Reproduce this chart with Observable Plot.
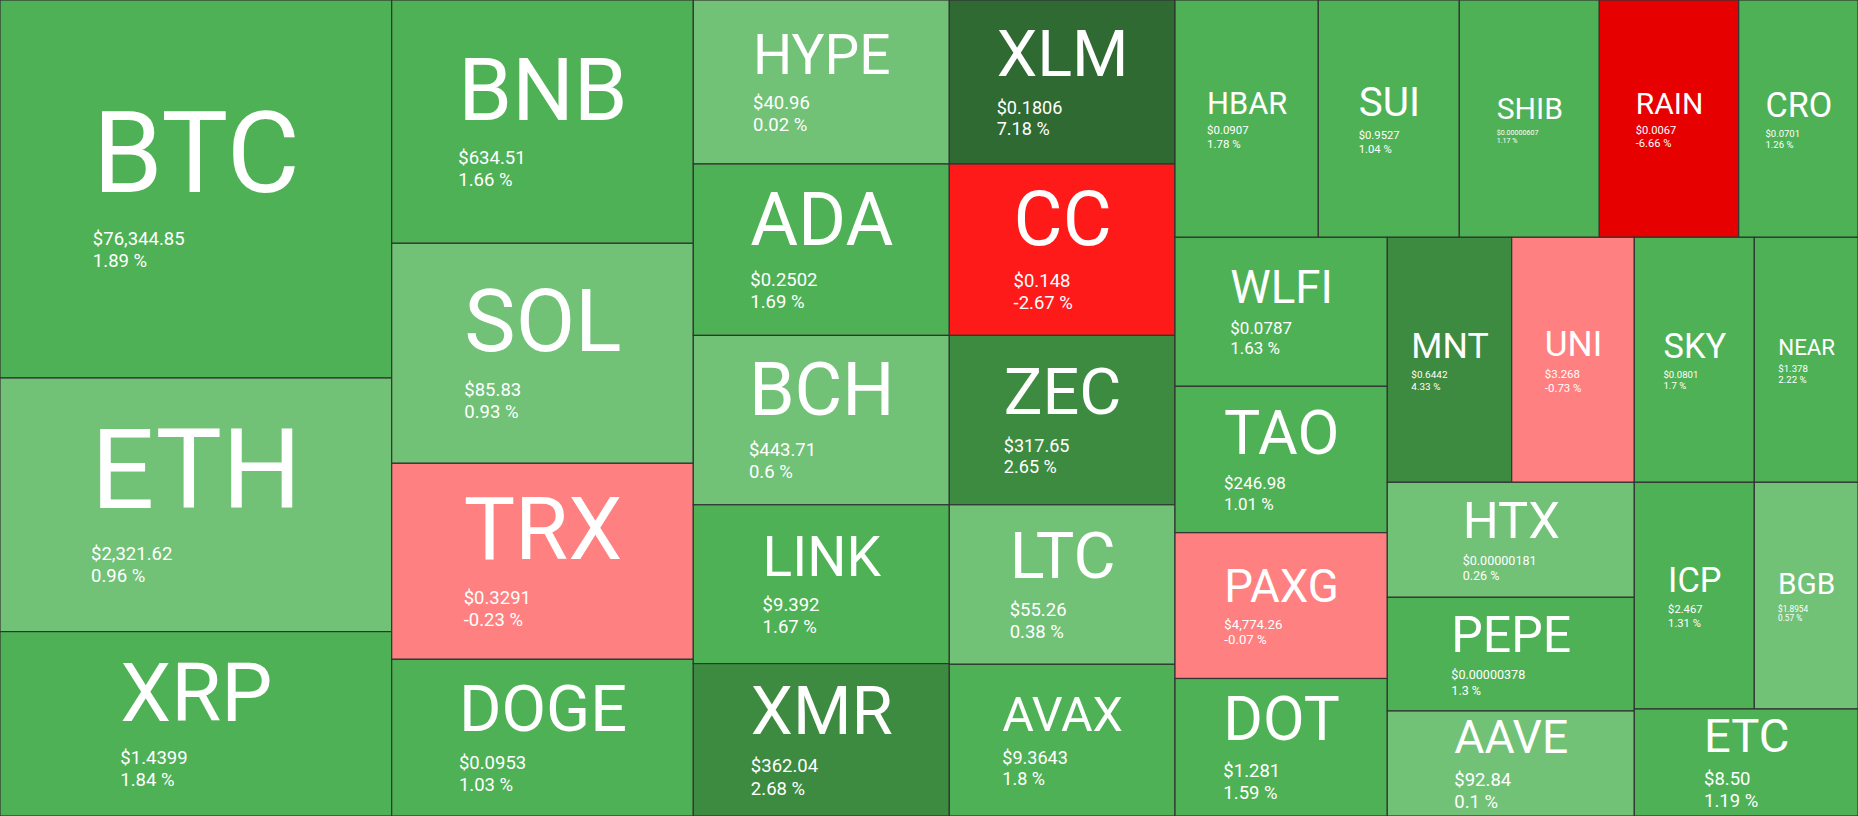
<!DOCTYPE html>
<html><head><meta charset="utf-8">
<script src="https://cdn.jsdelivr.net/npm/d3@7"></script>
<script src="https://cdn.jsdelivr.net/npm/@observablehq/plot@0.6"></script>
<style>html,body{margin:0;padding:0;background:#fff;overflow:hidden} svg{display:block}</style>
</head><body><div id="chart"></div>
<script>
const symbols = ["BTC","ETH","XRP","BNB","SOL","TRX","DOGE","HYPE","ADA","BCH","LINK","XMR","XLM","CC","ZEC","LTC","AVAX","HBAR","SUI","SHIB","RAIN","CRO","WLFI","TAO","PAXG","DOT","MNT","UNI","SKY","NEAR","HTX","PEPE","AAVE","ICP","BGB","ETC"];
const sizes = [148063,99335,72229,73379,66352,59114,47261,41984,43878,43366,40653,39014,37015,38685,38234,36000,34239,34005,33459,33222,33080,28310,31633,31081,30953,29191,30478,30037,29400,25407,28405,28084,25935,27204,23509,23936];
const prices = ["$76,344.85","$2,321.62","$1.4399","$634.51","$85.83","$0.3291","$0.0953","$40.96","$0.2502","$443.71","$9.392","$362.04","$0.1806","$0.148","$317.65","$55.26","$9.3643","$0.0907","$0.9527","$0.00000607","$0.0067","$0.0701","$0.0787","$246.98","$4,774.26","$1.281","$0.6442","$3.268","$0.0801","$1.378","$0.00000181","$0.00000378","$92.84","$2.467","$1.8954","$8.50"];
const changes = [1.89,0.96,1.84,1.66,0.93,-0.23,1.03,0.02,1.69,0.6,1.67,2.68,7.18,-2.67,2.65,0.38,1.8,1.78,1.04,1.17,-6.66,1.26,1.63,1.01,-0.07,1.59,4.33,-0.73,1.7,2.22,0.26,1.3,0.1,1.31,0.57,1.19];
const colorThresholds = [-5,-2,0,1,2.5,5];
const colorRange = ["#e60000","#ff1a1a","#ff8080","#71c277","#4fb155","#3d8b40","#2f6a33"];

const W = 1858, H = 816;
const stretch = 1.044;
const H0 = H / stretch;

const root = d3.hierarchy({children: symbols.map((s,i)=>({symbol:s, size:sizes[i], price:prices[i], change:changes[i]}))})
  .sum(d => d.size || 0);
d3.treemap().tile(d3.treemapSquarify).size([W, H0])(root);

const ctx = document.createElement("canvas").getContext("2d");
function tw(text, size){ ctx.font = `${size}px Roboto`; return ctx.measureText(text).width; }

const cells = root.leaves().map(n => {
  const d = n.data;
  const w = n.x1 - n.x0, hPx = (n.y1 - n.y0) * stretch;
  const sym = Math.min(0.86 * w / d.symbol.length, 0.44 * hPx);
  const pf = Math.min(0.56 * w / d.price.length, 18.5);
  const pct = `${d.change} %`;
  const bw = Math.max(tw(d.symbol, sym), tw(d.price, pf), tw(pct, pf));
  const cx = (n.x0 + n.x1) / 2, cyPx = (n.y0 + n.y1) / 2 * stretch;
  const span = 0.711*sym + 0.3*sym + pf + 1.2*pf + 0.2*pf;
  const symBase = cyPx - span/2 + 0.711*sym + 2;
  const priceBase = symBase + 0.3*sym + pf;
  const pctBase = priceBase + 1.2*pf;
  return {...d, pct, x0:n.x0, x1:n.x1, y0:n.y0, y1:n.y1, left: cx - bw/2,
    symY: symBase/stretch, priceY: priceBase/stretch, pctY: pctBase/stretch, sym, pf};
});

const chart = Plot.plot({
  width: W, height: H, margin: 0,
  style: {fontFamily: "Roboto", background: "#fff"},
  x: {domain: [0, W], range: [0, W], axis: null},
  y: {domain: [0, H0], range: [0, H], axis: null},
  color: {type: "threshold", domain: colorThresholds, range: colorRange},
  marks: [
    Plot.rect(cells, {x1: "x0", x2: "x1", y1: "y0", y2: "y1", fill: "change", stroke: "#333", strokeWidth: 1.2}),
    Plot.text(cells, {x: "left", y: "symY", text: "symbol", fontSize: "sym", textAnchor: "start", lineAnchor: "bottom", fill: "white", fontFamily: "Roboto"}),
    Plot.text(cells, {x: "left", y: "priceY", text: "price", fontSize: "pf", textAnchor: "start", lineAnchor: "bottom", fill: "white", fontFamily: "Roboto"}),
    Plot.text(cells, {x: "left", y: "pctY", text: "pct", fontSize: "pf", textAnchor: "start", lineAnchor: "bottom", fill: "white", fontFamily: "Roboto"})
  ]
});
document.getElementById("chart").append(chart);
</script>
</body></html>
